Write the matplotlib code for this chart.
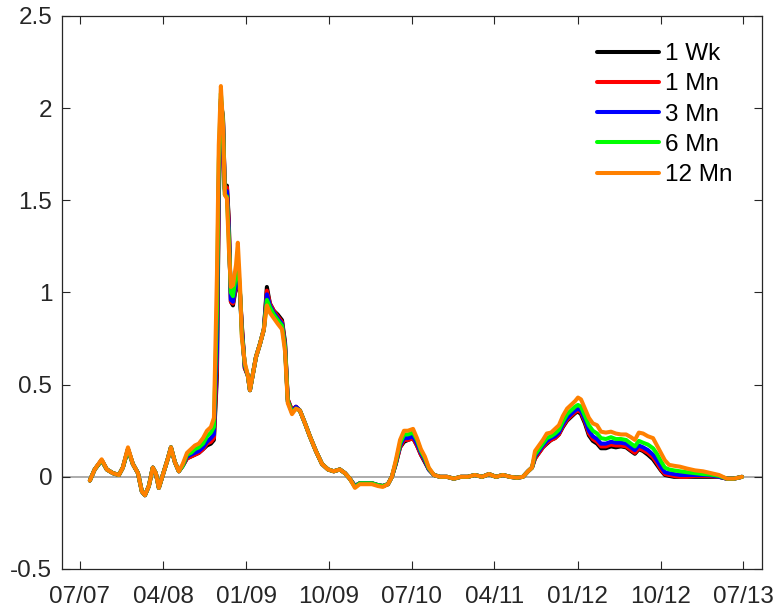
import matplotlib
matplotlib.use("Agg")
import matplotlib.pyplot as plt
import matplotlib.dates as mdates
import numpy as np

plt.rcParams['font.family'] = ['Liberation Sans', 'DejaVu Sans']
plt.rcParams['axes.unicode_minus'] = False

dates = [
    "2007-08-03", "2007-08-19", "2007-09-11", "2007-09-28", "2007-10-18",
    "2007-11-07", "2007-11-20", "2007-12-07", "2007-12-23", "2008-01-09",
    "2008-01-22", "2008-02-01", "2008-02-14", "2008-02-27", "2008-03-08",
    "2008-03-18", "2008-03-31", "2008-04-17", "2008-04-27", "2008-05-10",
    "2008-05-23", "2008-06-05", "2008-06-19", "2008-07-02", "2008-07-15",
    "2008-07-28", "2008-08-11", "2008-08-24", "2008-09-06", "2008-09-16",
    "2008-09-26", "2008-10-02", "2008-10-09", "2008-10-16", "2008-10-22",
    "2008-10-29", "2008-11-04", "2008-11-11", "2008-11-18", "2008-11-28",
    "2008-12-04", "2008-12-11", "2008-12-17", "2008-12-27", "2009-01-06",
    "2009-01-13", "2009-01-23", "2009-02-02", "2009-02-15", "2009-02-28",
    "2009-03-10", "2009-03-20", "2009-04-02", "2009-04-15", "2009-04-29",
    "2009-05-09", "2009-05-18", "2009-06-01", "2009-06-14", "2009-06-27",
    "2009-07-14", "2009-07-30", "2009-08-19", "2009-09-08", "2009-09-28",
    "2009-10-17", "2009-11-06", "2009-11-23", "2009-12-09", "2009-12-26",
    "2010-01-11", "2010-01-31", "2010-02-20", "2010-03-12", "2010-03-28",
    "2010-04-14", "2010-04-27", "2010-05-10", "2010-05-24", "2010-06-06",
    "2010-06-19", "2010-07-06", "2010-07-19", "2010-08-01", "2010-08-14",
    "2010-08-27", "2010-09-13", "2010-10-03", "2010-10-26", "2010-11-18",
    "2010-12-11", "2011-01-03", "2011-01-26", "2011-02-19", "2011-03-14",
    "2011-04-06", "2011-04-29", "2011-05-22", "2011-06-14", "2011-07-04",
    "2011-07-21", "2011-08-03", "2011-08-13", "2011-08-26", "2011-09-08",
    "2011-09-21", "2011-10-05", "2011-10-18", "2011-10-31", "2011-11-13",
    "2011-11-27", "2011-12-10", "2011-12-23", "2012-01-02", "2012-01-12",
    "2012-01-25", "2012-02-07", "2012-02-20", "2012-03-05", "2012-03-18",
    "2012-04-03", "2012-04-20", "2012-05-06", "2012-05-23", "2012-06-09",
    "2012-06-25", "2012-07-08", "2012-07-21", "2012-08-04", "2012-08-20",
    "2012-09-06", "2012-09-19", "2012-10-02", "2012-10-15", "2012-10-29",
    "2012-11-14", "2012-12-04", "2012-12-27", "2013-01-23", "2013-02-18",
    "2013-03-16", "2013-04-12", "2013-05-08", "2013-05-31", "2013-06-27",
]

wk1 = [
    -0.02, 0.04, 0.09, 0.04, 0.02, 0.01, 0.05, 0.15, 0.07, 0.02,
    -0.08, -0.10, -0.05, 0.05, 0.02, -0.06, 0.01, 0.10, 0.16, 0.08,
    0.03, 0.06, 0.10, 0.11, 0.12, 0.13, 0.15, 0.17, 0.18, 0.20,
    0.55, 1.50, 2.03, 1.95, 1.56, 1.58, 1.40, 0.95, 0.93, 1.03,
    1.05, 1.00, 0.83, 0.59, 0.55, 0.47, 0.56, 0.65, 0.72, 0.80,
    1.03, 0.94, 0.90, 0.88, 0.85, 0.73, 0.42, 0.36, 0.38, 0.36,
    0.29, 0.22, 0.14, 0.07, 0.04, 0.03, 0.04, 0.02, -0.01, -0.05,
    -0.035, -0.035, -0.035, -0.045, -0.05, -0.04, 0.0, 0.07, 0.16, 0.19,
    0.20, 0.21, 0.17, 0.12, 0.08, 0.04, 0.01, 0.0, 0.0, -0.01,
    0.0, 0.0, 0.01, 0.0, 0.015, 0.0, 0.01, 0.0, -0.005, 0.0,
    0.03, 0.05, 0.10, 0.13, 0.16, 0.18, 0.20, 0.21, 0.23, 0.27,
    0.305, 0.325, 0.345, 0.355, 0.34, 0.29, 0.225, 0.195, 0.18, 0.155,
    0.155, 0.165, 0.16, 0.165, 0.16, 0.14, 0.125, 0.15, 0.14, 0.12,
    0.095, 0.065, 0.035, 0.01, 0.005, 0.0, 0.0, 0.0, 0.0, 0.0,
    0.0, 0.0, -0.01, -0.01, 0.0,
]

mn1 = [
    -0.02, 0.04, 0.09, 0.04, 0.02, 0.01, 0.05, 0.15, 0.07, 0.02,
    -0.08, -0.10, -0.05, 0.05, 0.02, -0.06, 0.01, 0.10, 0.16, 0.08,
    0.03, 0.06, 0.10, 0.11, 0.12, 0.13, 0.15, 0.18, 0.19, 0.21,
    0.60, 1.55, 2.04, 1.94, 1.56, 1.57, 1.38, 0.95, 0.94, 1.04,
    1.07, 1.00, 0.82, 0.59, 0.55, 0.47, 0.56, 0.65, 0.72, 0.80,
    1.01, 0.94, 0.90, 0.87, 0.84, 0.72, 0.42, 0.36, 0.38, 0.36,
    0.29, 0.22, 0.14, 0.07, 0.04, 0.03, 0.04, 0.02, -0.01, -0.05,
    -0.035, -0.035, -0.035, -0.045, -0.05, -0.04, 0.0, 0.07, 0.16, 0.20,
    0.20, 0.21, 0.17, 0.12, 0.085, 0.04, 0.01, 0.0, 0.0, -0.01,
    0.0, 0.0, 0.01, 0.0, 0.015, 0.0, 0.01, 0.0, -0.005, 0.0,
    0.03, 0.05, 0.10, 0.13, 0.16, 0.185, 0.20, 0.21, 0.23, 0.275,
    0.31, 0.33, 0.35, 0.36, 0.35, 0.30, 0.235, 0.205, 0.19, 0.165,
    0.165, 0.175, 0.17, 0.17, 0.165, 0.145, 0.13, 0.155, 0.145, 0.13,
    0.105, 0.075, 0.04, 0.015, 0.01, 0.005, 0.0, 0.0, 0.005, 0.005,
    0.004, 0.0, -0.01, -0.01, 0.0,
]

mn3 = [
    -0.02, 0.04, 0.09, 0.04, 0.02, 0.01, 0.05, 0.15, 0.07, 0.02,
    -0.08, -0.10, -0.05, 0.05, 0.02, -0.06, 0.01, 0.10, 0.16, 0.08,
    0.03, 0.06, 0.11, 0.12, 0.13, 0.14, 0.16, 0.19, 0.21, 0.23,
    0.70, 1.60, 2.05, 1.93, 1.55, 1.55, 1.35, 0.96, 0.95, 1.06,
    1.10, 1.00, 0.80, 0.60, 0.55, 0.47, 0.56, 0.65, 0.72, 0.80,
    0.99, 0.93, 0.89, 0.86, 0.83, 0.71, 0.41, 0.35, 0.38, 0.36,
    0.29, 0.22, 0.14, 0.07, 0.04, 0.03, 0.04, 0.02, -0.01, -0.05,
    -0.035, -0.035, -0.035, -0.045, -0.05, -0.04, 0.0, 0.075, 0.17, 0.21,
    0.21, 0.22, 0.18, 0.13, 0.09, 0.04, 0.01, 0.0, 0.0, -0.01,
    0.0, 0.0, 0.01, 0.0, 0.015, 0.0, 0.01, 0.0, -0.005, 0.0,
    0.03, 0.05, 0.11, 0.14, 0.17, 0.195, 0.21, 0.22, 0.24, 0.285,
    0.32, 0.34, 0.36, 0.37, 0.36, 0.31, 0.25, 0.22, 0.205, 0.18,
    0.18, 0.19, 0.185, 0.185, 0.18, 0.16, 0.145, 0.17, 0.16, 0.145,
    0.12, 0.09, 0.055, 0.025, 0.02, 0.015, 0.01, 0.01, 0.01, 0.01,
    0.008, 0.0, -0.01, -0.01, 0.0,
]

mn6 = [
    -0.02, 0.04, 0.09, 0.04, 0.02, 0.01, 0.05, 0.15, 0.07, 0.02,
    -0.08, -0.10, -0.05, 0.05, 0.02, -0.06, 0.01, 0.10, 0.16, 0.08,
    0.03, 0.06, 0.12, 0.13, 0.15, 0.16, 0.18, 0.22, 0.24, 0.27,
    0.90, 1.70, 2.08, 1.92, 1.53, 1.52, 1.30, 1.00, 0.98, 1.10,
    1.16, 1.02, 0.78, 0.61, 0.55, 0.47, 0.56, 0.65, 0.72, 0.80,
    0.96, 0.92, 0.88, 0.85, 0.82, 0.70, 0.41, 0.35, 0.37, 0.36,
    0.29, 0.22, 0.14, 0.07, 0.04, 0.03, 0.04, 0.02, -0.01, -0.055,
    -0.035, -0.035, -0.035, -0.045, -0.05, -0.04, 0.0, 0.08, 0.18, 0.23,
    0.23, 0.24, 0.20, 0.14, 0.10, 0.045, 0.01, 0.0, 0.0, -0.01,
    0.0, 0.0, 0.01, 0.0, 0.015, 0.0, 0.01, 0.0, -0.005, 0.0,
    0.03, 0.05, 0.12, 0.15, 0.18, 0.21, 0.22, 0.235, 0.255, 0.30,
    0.34, 0.36, 0.38, 0.39, 0.38, 0.33, 0.28, 0.25, 0.235, 0.21,
    0.205, 0.215, 0.205, 0.205, 0.20, 0.18, 0.165, 0.195, 0.185, 0.175,
    0.155, 0.125, 0.085, 0.05, 0.04, 0.035, 0.03, 0.025, 0.02, 0.015,
    0.012, 0.005, -0.01, -0.01, 0.0,
]

mn12 = [
    -0.02, 0.04, 0.095, 0.04, 0.02, 0.01, 0.05, 0.16, 0.07, 0.02,
    -0.08, -0.10, -0.05, 0.05, 0.02, -0.06, 0.01, 0.10, 0.16, 0.08,
    0.03, 0.07, 0.13, 0.15, 0.17, 0.18, 0.21, 0.25, 0.27, 0.32,
    1.10, 1.80, 2.12, 1.90, 1.53, 1.51, 1.25, 1.03, 1.04, 1.15,
    1.27, 1.05, 0.76, 0.62, 0.55, 0.47, 0.56, 0.65, 0.72, 0.80,
    0.93, 0.89, 0.86, 0.83, 0.80, 0.68, 0.40, 0.34, 0.37, 0.36,
    0.29, 0.22, 0.14, 0.07, 0.04, 0.03, 0.04, 0.02, -0.01, -0.06,
    -0.04, -0.04, -0.04, -0.05, -0.055, -0.04, 0.0, 0.09, 0.20, 0.25,
    0.25, 0.26, 0.21, 0.15, 0.11, 0.05, 0.01, 0.0, 0.0, -0.01,
    0.0, 0.0, 0.01, 0.0, 0.015, 0.0, 0.01, 0.0, -0.005, 0.0,
    0.03, 0.05, 0.14, 0.17, 0.20, 0.235, 0.24, 0.26, 0.28, 0.33,
    0.37, 0.39, 0.41, 0.43, 0.42, 0.37, 0.32, 0.29, 0.28, 0.245,
    0.24, 0.245, 0.235, 0.23, 0.23, 0.215, 0.20, 0.24, 0.235, 0.22,
    0.21, 0.17, 0.13, 0.09, 0.065, 0.06, 0.055, 0.045, 0.035, 0.03,
    0.02, 0.01, -0.01, -0.01, 0.0,
]

labels = ["1 Wk", "1 Mn", "3 Mn", "6 Mn", "12 Mn"]
colors = ["#000000", "#ff0000", "#0000ff", "#00ff00", "#ff8000"]
tick_dates = ["2007-07-01", "2008-04-01", "2009-01-01", "2009-10-01", "2010-07-01",
              "2011-04-01", "2012-01-01", "2012-10-01", "2013-07-01"]

t = np.array(dates, dtype="datetime64[D]")

fig = plt.figure(figsize=(7.75, 6.13), dpi=100)
ax = fig.add_axes([0.080, 0.0718, 0.9032, 0.9021])

ax.axhline(0, color="#a6a6a6", lw=1.3, zorder=1)
for y, lab, c in zip([wk1, mn1, mn3, mn6, mn12], labels, colors):
    ax.plot(t, y, color=c, lw=2.9, label=lab, zorder=2,
            solid_joinstyle="round", solid_capstyle="round")

ax.set_xlim(np.datetime64("2007-05-03"), np.datetime64("2013-09-01"))
ax.set_ylim(-0.5, 2.5)
ax.set_yticks([-0.5, 0, 0.5, 1, 1.5, 2, 2.5])
ax.set_yticklabels(["-0.5", "0", "0.5", "1", "1.5", "2", "2.5"])
ax.set_xticks(np.array(tick_dates, dtype="datetime64[D]"))
ax.xaxis.set_major_formatter(mdates.DateFormatter("%m/%y"))

ax.tick_params(direction="in", length=6, width=0.8, labelsize=17.5,
               top=True, right=True, colors="#262626")
ax.tick_params(axis="x", pad=12)
ax.tick_params(axis="y", pad=7)
for s in ax.spines.values():
    s.set_color("#262626")
    s.set_linewidth(0.9)

leg = ax.legend(loc="upper left", bbox_to_anchor=(0.764, 0.951), frameon=False,
                fontsize=17.5, handlelength=2.55, handletextpad=0.25,
                labelspacing=0.34, borderpad=0, borderaxespad=0)
for h in leg.get_lines():
    h.set_linewidth(2.9)

fig.savefig("out.png", dpi=100)
